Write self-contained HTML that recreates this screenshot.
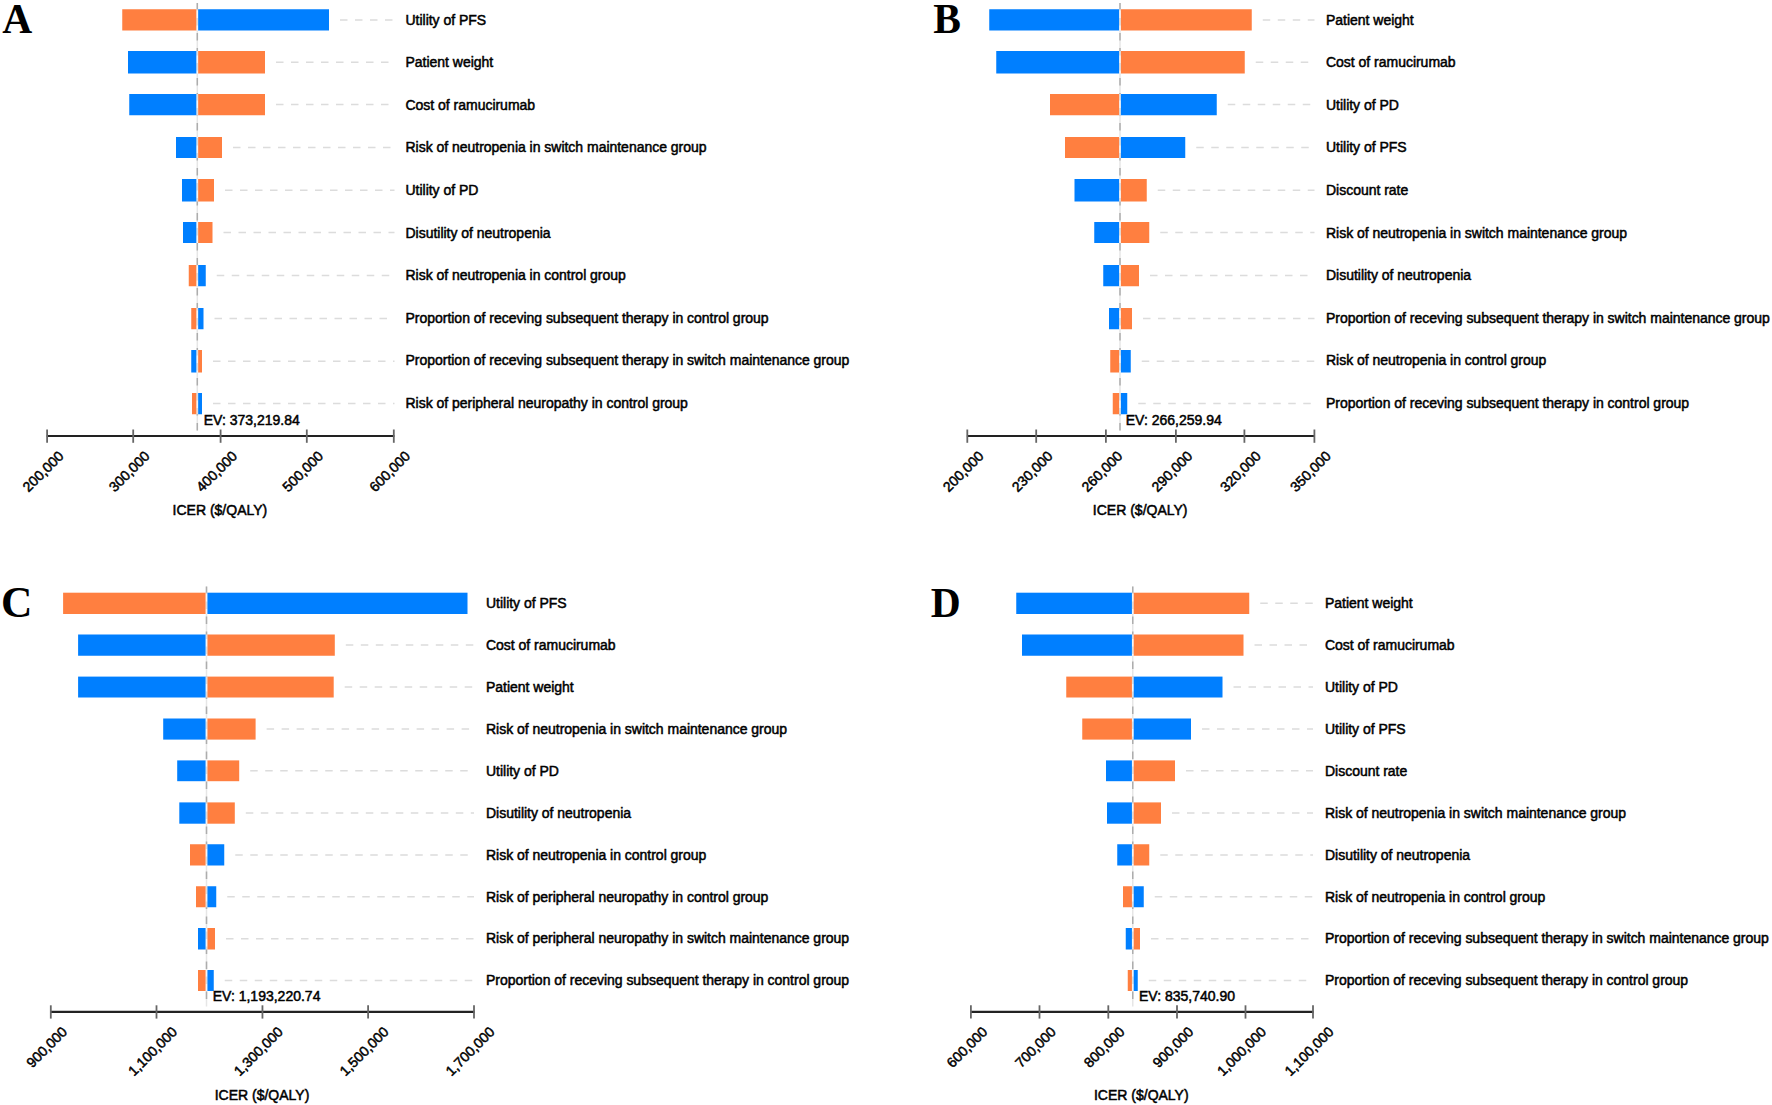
<!DOCTYPE html>
<html lang="en"><head><meta charset="utf-8"><title>Tornado diagrams</title>
<style>
html,body{margin:0;padding:0;background:#fff;}
body{width:1772px;height:1105px;overflow:hidden;}
svg{display:block;}
text{font-family:"Liberation Sans",Arial,Helvetica,sans-serif;fill:#000;stroke:#000;stroke-width:.5px;}
.lab{font-size:14px;letter-spacing:-0.02px;}
.tk{font-size:14px;text-anchor:end;}
.ev{font-size:14px;}
.ttl{font-size:14px;text-anchor:middle;}
.ltr{stroke:none;font-family:"Liberation Serif","Times New Roman",serif;font-weight:bold;}
.b{fill:#007fff;}.o{fill:#ff7f40;}
.ld{stroke:#dcdcdc;stroke-width:1.5;stroke-dasharray:7.5 7.5;fill:none;}
.cl{stroke:#adadad;stroke-width:1.5;stroke-dasharray:7.5 7.5;fill:none;}
.cu{stroke:#e6e6e6;stroke-width:1.5;fill:none;}
.cw{fill:#fff;fill-opacity:.6;}
.ax{stroke:#222;fill:none;}
.tick{stroke:#666;stroke-width:1.8;fill:none;}
</style></head><body>
<svg width="1772" height="1105" viewBox="0 0 1772 1105">
<rect x="0" y="0" width="1772" height="1105" fill="#fff"/>
<g id="panel-A">
<text class="ltr" x="2.2" y="33" font-size="41.5">A</text>
<line class="cu" x1="197.3" y1="3" x2="197.3" y2="430.5"/>
<line class="cl" x1="197.3" y1="3" x2="197.3" y2="430.5"/>
<rect class="o" x="122.25" y="9.25" width="74.25" height="21.25"/>
<rect class="b" x="198.1" y="9.25" width="130.9" height="21.25"/>
<rect class="cw" x="196.5" y="9.25" width="1.6" height="21.25"/>
<line class="ld" x1="340" y1="19.88" x2="394.5" y2="19.88"/>
<text class="lab" x="405.5" y="24.7">Utility of PFS</text>
<rect class="b" x="128" y="51" width="68.5" height="22.5"/>
<rect class="o" x="198.1" y="51" width="66.9" height="22.5"/>
<rect class="cw" x="196.5" y="51" width="1.6" height="22.5"/>
<line class="ld" x1="276" y1="62.25" x2="394.5" y2="62.25"/>
<text class="lab" x="405.5" y="67.26">Patient weight</text>
<rect class="b" x="129.25" y="94" width="67.25" height="21.25"/>
<rect class="o" x="198.1" y="94" width="66.9" height="21.25"/>
<rect class="cw" x="196.5" y="94" width="1.6" height="21.25"/>
<line class="ld" x1="276" y1="104.62" x2="394.5" y2="104.62"/>
<text class="lab" x="405.5" y="109.82">Cost of ramucirumab</text>
<rect class="b" x="176" y="137" width="20.5" height="21"/>
<rect class="o" x="198.1" y="137" width="23.9" height="21"/>
<rect class="cw" x="196.5" y="137" width="1.6" height="21"/>
<line class="ld" x1="233" y1="147.5" x2="394.5" y2="147.5"/>
<text class="lab" x="405.5" y="152.38">Risk of neutropenia in switch maintenance group</text>
<rect class="b" x="182" y="179" width="14.5" height="22.5"/>
<rect class="o" x="198.1" y="179" width="15.9" height="22.5"/>
<rect class="cw" x="196.5" y="179" width="1.6" height="22.5"/>
<line class="ld" x1="225" y1="190.25" x2="394.5" y2="190.25"/>
<text class="lab" x="405.5" y="194.94">Utility of PD</text>
<rect class="b" x="183" y="222" width="13.5" height="21"/>
<rect class="o" x="198.1" y="222" width="14.4" height="21"/>
<rect class="cw" x="196.5" y="222" width="1.6" height="21"/>
<line class="ld" x1="223.5" y1="232.5" x2="394.5" y2="232.5"/>
<text class="lab" x="405.5" y="237.5">Disutility of neutropenia</text>
<rect class="o" x="188.75" y="265" width="7.75" height="21.25"/>
<rect class="b" x="198.1" y="265" width="7.65" height="21.25"/>
<rect class="cw" x="196.5" y="265" width="1.6" height="21.25"/>
<line class="ld" x1="216.75" y1="275.62" x2="394.5" y2="275.62"/>
<text class="lab" x="405.5" y="280.06">Risk of neutropenia in control group</text>
<rect class="o" x="191.25" y="308" width="5.25" height="21.25"/>
<rect class="b" x="198.1" y="308" width="5.4" height="21.25"/>
<rect class="cw" x="196.5" y="308" width="1.6" height="21.25"/>
<line class="ld" x1="214.5" y1="318.62" x2="394.5" y2="318.62"/>
<text class="lab" x="405.5" y="322.62">Proportion of receving subsequent therapy in control group</text>
<rect class="b" x="191.25" y="350" width="5.25" height="22.5"/>
<rect class="o" x="198.1" y="350" width="3.9" height="22.5"/>
<rect class="cw" x="196.5" y="350" width="1.6" height="22.5"/>
<line class="ld" x1="213" y1="361.25" x2="394.5" y2="361.25"/>
<text class="lab" x="405.5" y="365.18">Proportion of receving subsequent therapy in switch maintenance group</text>
<rect class="o" x="192" y="393" width="4.5" height="21.25"/>
<rect class="b" x="198.1" y="393" width="3.9" height="21.25"/>
<rect class="cw" x="196.5" y="393" width="1.6" height="21.25"/>
<line class="ld" x1="213" y1="403.62" x2="394.5" y2="403.62"/>
<text class="lab" x="405.5" y="407.74">Risk of peripheral neuropathy in control group</text>
<text class="ev" x="203.75" y="425">EV: 373,219.84</text>
<line class="ax" x1="46.7" y1="436" x2="394.4" y2="436" stroke-width="1.8"/>
<line class="tick" x1="47.1" y1="429.5" x2="47.1" y2="442.8"/>
<text class="tk" transform="translate(64.4 457) rotate(-45)">200,000</text>
<line class="tick" x1="133.2" y1="429.5" x2="133.2" y2="442.8"/>
<text class="tk" transform="translate(150.5 457) rotate(-45)">300,000</text>
<line class="tick" x1="220.6" y1="429.5" x2="220.6" y2="442.8"/>
<text class="tk" transform="translate(237.9 457) rotate(-45)">400,000</text>
<line class="tick" x1="306.8" y1="429.5" x2="306.8" y2="442.8"/>
<text class="tk" transform="translate(324.1 457) rotate(-45)">500,000</text>
<line class="tick" x1="393.8" y1="429.5" x2="393.8" y2="442.8"/>
<text class="tk" transform="translate(411.1 457) rotate(-45)">600,000</text>
<text class="ttl" x="219.9" y="515">ICER ($/QALY)</text>
</g>
<g id="panel-B">
<text class="ltr" x="933.3" y="33" font-size="41.5">B</text>
<line class="cu" x1="1120" y1="3" x2="1120" y2="430.5"/>
<line class="cl" x1="1120" y1="3" x2="1120" y2="430.5"/>
<rect class="b" x="989.25" y="9.25" width="129.95" height="21.25"/>
<rect class="o" x="1120.8" y="9.25" width="130.95" height="21.25"/>
<rect class="cw" x="1119.2" y="9.25" width="1.6" height="21.25"/>
<line class="ld" x1="1262.75" y1="19.88" x2="1314.5" y2="19.88"/>
<text class="lab" x="1326" y="24.7">Patient weight</text>
<rect class="b" x="996.25" y="51" width="122.95" height="22.5"/>
<rect class="o" x="1120.8" y="51" width="123.95" height="22.5"/>
<rect class="cw" x="1119.2" y="51" width="1.6" height="22.5"/>
<line class="ld" x1="1255.75" y1="62.25" x2="1314.5" y2="62.25"/>
<text class="lab" x="1326" y="67.26">Cost of ramucirumab</text>
<rect class="o" x="1050" y="94" width="69.2" height="21.25"/>
<rect class="b" x="1120.8" y="94" width="95.95" height="21.25"/>
<rect class="cw" x="1119.2" y="94" width="1.6" height="21.25"/>
<line class="ld" x1="1227.75" y1="104.62" x2="1314.5" y2="104.62"/>
<text class="lab" x="1326" y="109.82">Utility of PD</text>
<rect class="o" x="1065" y="137" width="54.2" height="21"/>
<rect class="b" x="1120.8" y="137" width="64.45" height="21"/>
<rect class="cw" x="1119.2" y="137" width="1.6" height="21"/>
<line class="ld" x1="1196.25" y1="147.5" x2="1314.5" y2="147.5"/>
<text class="lab" x="1326" y="152.38">Utility of PFS</text>
<rect class="b" x="1074.5" y="179" width="44.7" height="22.5"/>
<rect class="o" x="1120.8" y="179" width="25.95" height="22.5"/>
<rect class="cw" x="1119.2" y="179" width="1.6" height="22.5"/>
<line class="ld" x1="1157.75" y1="190.25" x2="1314.5" y2="190.25"/>
<text class="lab" x="1326" y="194.94">Discount rate</text>
<rect class="b" x="1094.25" y="222" width="24.95" height="21"/>
<rect class="o" x="1120.8" y="222" width="28.45" height="21"/>
<rect class="cw" x="1119.2" y="222" width="1.6" height="21"/>
<line class="ld" x1="1160.25" y1="232.5" x2="1314.5" y2="232.5"/>
<text class="lab" x="1326" y="237.5">Risk of neutropenia in switch maintenance group</text>
<rect class="b" x="1103.25" y="265" width="15.95" height="21.25"/>
<rect class="o" x="1120.8" y="265" width="18.2" height="21.25"/>
<rect class="cw" x="1119.2" y="265" width="1.6" height="21.25"/>
<line class="ld" x1="1150" y1="275.62" x2="1314.5" y2="275.62"/>
<text class="lab" x="1326" y="280.06">Disutility of neutropenia</text>
<rect class="b" x="1109" y="308" width="10.2" height="21.25"/>
<rect class="o" x="1120.8" y="308" width="11.2" height="21.25"/>
<rect class="cw" x="1119.2" y="308" width="1.6" height="21.25"/>
<line class="ld" x1="1143" y1="318.62" x2="1314.5" y2="318.62"/>
<text class="lab" x="1326" y="322.62">Proportion of receving subsequent therapy in switch maintenance group</text>
<rect class="o" x="1110.25" y="350" width="8.95" height="22.5"/>
<rect class="b" x="1120.8" y="350" width="9.95" height="22.5"/>
<rect class="cw" x="1119.2" y="350" width="1.6" height="22.5"/>
<line class="ld" x1="1141.75" y1="361.25" x2="1314.5" y2="361.25"/>
<text class="lab" x="1326" y="365.18">Risk of neutropenia in control group</text>
<rect class="o" x="1112.75" y="393" width="6.45" height="21.25"/>
<rect class="b" x="1120.8" y="393" width="6.45" height="21.25"/>
<rect class="cw" x="1119.2" y="393" width="1.6" height="21.25"/>
<line class="ld" x1="1138.25" y1="403.62" x2="1314.5" y2="403.62"/>
<text class="lab" x="1326" y="407.74">Proportion of receving subsequent therapy in control group</text>
<text class="ev" x="1125.75" y="425">EV: 266,259.94</text>
<line class="ax" x1="966.9" y1="436" x2="1315" y2="436" stroke-width="1.8"/>
<line class="tick" x1="967.3" y1="429.5" x2="967.3" y2="442.8"/>
<text class="tk" transform="translate(984.6 457) rotate(-45)">200,000</text>
<line class="tick" x1="1036.2" y1="429.5" x2="1036.2" y2="442.8"/>
<text class="tk" transform="translate(1053.5 457) rotate(-45)">230,000</text>
<line class="tick" x1="1105.9" y1="429.5" x2="1105.9" y2="442.8"/>
<text class="tk" transform="translate(1123.2 457) rotate(-45)">260,000</text>
<line class="tick" x1="1175.9" y1="429.5" x2="1175.9" y2="442.8"/>
<text class="tk" transform="translate(1193.2 457) rotate(-45)">290,000</text>
<line class="tick" x1="1244.4" y1="429.5" x2="1244.4" y2="442.8"/>
<text class="tk" transform="translate(1261.7 457) rotate(-45)">320,000</text>
<line class="tick" x1="1314.4" y1="429.5" x2="1314.4" y2="442.8"/>
<text class="tk" transform="translate(1331.7 457) rotate(-45)">350,000</text>
<text class="ttl" x="1140.2" y="515">ICER ($/QALY)</text>
</g>
<g id="panel-C">
<text class="ltr" x="1.1" y="616.7" font-size="43.5">C</text>
<line class="cu" x1="206.5" y1="586.6" x2="206.5" y2="1006.5"/>
<line class="cl" x1="206.5" y1="586.6" x2="206.5" y2="1006.5"/>
<rect class="o" x="63.1" y="592.7" width="142.6" height="21.3"/>
<rect class="b" x="207.3" y="592.7" width="260.2" height="21.3"/>
<rect class="cw" x="205.7" y="592.7" width="1.6" height="21.3"/>
<text class="lab" x="486" y="608.2">Utility of PFS</text>
<rect class="b" x="78.1" y="634.5" width="127.6" height="21.25"/>
<rect class="o" x="207.3" y="634.5" width="127.5" height="21.25"/>
<rect class="cw" x="205.7" y="634.5" width="1.6" height="21.25"/>
<line class="ld" x1="345.8" y1="645.12" x2="474" y2="645.12"/>
<text class="lab" x="486" y="650.1">Cost of ramucirumab</text>
<rect class="b" x="78.1" y="676.6" width="127.6" height="20.9"/>
<rect class="o" x="207.3" y="676.6" width="126.4" height="20.9"/>
<rect class="cw" x="205.7" y="676.6" width="1.6" height="20.9"/>
<line class="ld" x1="344.7" y1="687.05" x2="474" y2="687.05"/>
<text class="lab" x="486" y="692">Patient weight</text>
<rect class="b" x="163.2" y="718.5" width="42.5" height="21.1"/>
<rect class="o" x="207.3" y="718.5" width="48.3" height="21.1"/>
<rect class="cw" x="205.7" y="718.5" width="1.6" height="21.1"/>
<line class="ld" x1="266.6" y1="729.05" x2="474" y2="729.05"/>
<text class="lab" x="486" y="733.9">Risk of neutropenia in switch maintenance group</text>
<rect class="b" x="177.2" y="760.4" width="28.5" height="20.8"/>
<rect class="o" x="207.3" y="760.4" width="31.9" height="20.8"/>
<rect class="cw" x="205.7" y="760.4" width="1.6" height="20.8"/>
<line class="ld" x1="250.2" y1="770.8" x2="474" y2="770.8"/>
<text class="lab" x="486" y="775.8">Utility of PD</text>
<rect class="b" x="179.3" y="802.4" width="26.4" height="21.3"/>
<rect class="o" x="207.3" y="802.4" width="27.5" height="21.3"/>
<rect class="cw" x="205.7" y="802.4" width="1.6" height="21.3"/>
<line class="ld" x1="245.8" y1="813.05" x2="474" y2="813.05"/>
<text class="lab" x="486" y="817.7">Disutility of neutropenia</text>
<rect class="o" x="190" y="844.25" width="15.7" height="21.25"/>
<rect class="b" x="207.3" y="844.25" width="16.95" height="21.25"/>
<rect class="cw" x="205.7" y="844.25" width="1.6" height="21.25"/>
<line class="ld" x1="235.25" y1="854.88" x2="474" y2="854.88"/>
<text class="lab" x="486" y="859.6">Risk of neutropenia in control group</text>
<rect class="o" x="196" y="886.25" width="9.7" height="21"/>
<rect class="b" x="207.3" y="886.25" width="8.95" height="21"/>
<rect class="cw" x="205.7" y="886.25" width="1.6" height="21"/>
<line class="ld" x1="227.25" y1="896.75" x2="474" y2="896.75"/>
<text class="lab" x="486" y="901.5">Risk of peripheral neuropathy in control group</text>
<rect class="b" x="198" y="928" width="7.7" height="21.5"/>
<rect class="o" x="207.3" y="928" width="7.7" height="21.5"/>
<rect class="cw" x="205.7" y="928" width="1.6" height="21.5"/>
<line class="ld" x1="226" y1="938.75" x2="474" y2="938.75"/>
<text class="lab" x="486" y="943.4">Risk of peripheral neuropathy in switch maintenance group</text>
<rect class="o" x="198" y="970" width="7.7" height="21"/>
<rect class="b" x="207.3" y="970" width="6.45" height="21"/>
<rect class="cw" x="205.7" y="970" width="1.6" height="21"/>
<line class="ld" x1="224.75" y1="980.5" x2="474" y2="980.5"/>
<text class="lab" x="486" y="985.3">Proportion of receving subsequent therapy in control group</text>
<text class="ev" x="212.75" y="1000.75">EV: 1,193,220.74</text>
<line class="ax" x1="50.4" y1="1011.8" x2="474.6" y2="1011.8" stroke-width="2.3"/>
<line class="tick" x1="50.8" y1="1005.3" x2="50.8" y2="1018.6"/>
<text class="tk" transform="translate(68.1 1032.8) rotate(-45)">900,000</text>
<line class="tick" x1="156.5" y1="1005.3" x2="156.5" y2="1018.6"/>
<text class="tk" transform="translate(177.94 1032.8) rotate(-45)">1,100,000</text>
<line class="tick" x1="262.45" y1="1005.3" x2="262.45" y2="1018.6"/>
<text class="tk" transform="translate(283.89 1032.8) rotate(-45)">1,300,000</text>
<line class="tick" x1="368.1" y1="1005.3" x2="368.1" y2="1018.6"/>
<text class="tk" transform="translate(389.54 1032.8) rotate(-45)">1,500,000</text>
<line class="tick" x1="474" y1="1005.3" x2="474" y2="1018.6"/>
<text class="tk" transform="translate(495.44 1032.8) rotate(-45)">1,700,000</text>
<text class="ttl" x="262" y="1099.5">ICER ($/QALY)</text>
</g>
<g id="panel-D">
<text class="ltr" x="930.65" y="616.5" font-size="41.5">D</text>
<line class="cu" x1="1132.75" y1="586.5" x2="1132.75" y2="1006.5"/>
<line class="cl" x1="1132.75" y1="586.5" x2="1132.75" y2="1006.5"/>
<rect class="b" x="1016.25" y="592.7" width="115.7" height="21.3"/>
<rect class="o" x="1133.55" y="592.7" width="115.7" height="21.3"/>
<rect class="cw" x="1131.95" y="592.7" width="1.6" height="21.3"/>
<line class="ld" x1="1260.25" y1="603.35" x2="1313" y2="603.35"/>
<text class="lab" x="1325" y="608.2">Patient weight</text>
<rect class="b" x="1022" y="634.5" width="109.95" height="21.25"/>
<rect class="o" x="1133.55" y="634.5" width="109.95" height="21.25"/>
<rect class="cw" x="1131.95" y="634.5" width="1.6" height="21.25"/>
<line class="ld" x1="1254.5" y1="645.12" x2="1313" y2="645.12"/>
<text class="lab" x="1325" y="650.1">Cost of ramucirumab</text>
<rect class="o" x="1066.25" y="676.6" width="65.7" height="20.9"/>
<rect class="b" x="1133.55" y="676.6" width="88.95" height="20.9"/>
<rect class="cw" x="1131.95" y="676.6" width="1.6" height="20.9"/>
<line class="ld" x1="1233.5" y1="687.05" x2="1313" y2="687.05"/>
<text class="lab" x="1325" y="692">Utility of PD</text>
<rect class="o" x="1082.25" y="718.5" width="49.7" height="21.1"/>
<rect class="b" x="1133.55" y="718.5" width="57.45" height="21.1"/>
<rect class="cw" x="1131.95" y="718.5" width="1.6" height="21.1"/>
<line class="ld" x1="1202" y1="729.05" x2="1313" y2="729.05"/>
<text class="lab" x="1325" y="733.9">Utility of PFS</text>
<rect class="b" x="1106" y="760.4" width="25.95" height="20.8"/>
<rect class="o" x="1133.55" y="760.4" width="41.45" height="20.8"/>
<rect class="cw" x="1131.95" y="760.4" width="1.6" height="20.8"/>
<line class="ld" x1="1186" y1="770.8" x2="1313" y2="770.8"/>
<text class="lab" x="1325" y="775.8">Discount rate</text>
<rect class="b" x="1107" y="802.4" width="24.95" height="21.3"/>
<rect class="o" x="1133.55" y="802.4" width="27.45" height="21.3"/>
<rect class="cw" x="1131.95" y="802.4" width="1.6" height="21.3"/>
<line class="ld" x1="1172" y1="813.05" x2="1313" y2="813.05"/>
<text class="lab" x="1325" y="817.7">Risk of neutropenia in switch maintenance group</text>
<rect class="b" x="1117.25" y="844.25" width="14.7" height="21.25"/>
<rect class="o" x="1133.55" y="844.25" width="15.7" height="21.25"/>
<rect class="cw" x="1131.95" y="844.25" width="1.6" height="21.25"/>
<line class="ld" x1="1160.25" y1="854.88" x2="1313" y2="854.88"/>
<text class="lab" x="1325" y="859.6">Disutility of neutropenia</text>
<rect class="o" x="1123" y="886.25" width="8.95" height="21"/>
<rect class="b" x="1133.55" y="886.25" width="10.2" height="21"/>
<rect class="cw" x="1131.95" y="886.25" width="1.6" height="21"/>
<line class="ld" x1="1154.75" y1="896.75" x2="1313" y2="896.75"/>
<text class="lab" x="1325" y="901.5">Risk of neutropenia in control group</text>
<rect class="b" x="1125.75" y="928" width="6.2" height="21.5"/>
<rect class="o" x="1133.55" y="928" width="6.45" height="21.5"/>
<rect class="cw" x="1131.95" y="928" width="1.6" height="21.5"/>
<line class="ld" x1="1151" y1="938.75" x2="1313" y2="938.75"/>
<text class="lab" x="1325" y="943.4">Proportion of receving subsequent therapy in switch maintenance group</text>
<rect class="o" x="1127.75" y="970" width="4.2" height="21"/>
<rect class="b" x="1133.55" y="970" width="4.2" height="21"/>
<rect class="cw" x="1131.95" y="970" width="1.6" height="21"/>
<line class="ld" x1="1148.75" y1="980.5" x2="1313" y2="980.5"/>
<text class="lab" x="1325" y="985.3">Proportion of receving subsequent therapy in control group</text>
<text class="ev" x="1139" y="1000.75">EV: 835,740.90</text>
<line class="ax" x1="970.5" y1="1011.8" x2="1313.6" y2="1011.8" stroke-width="2.3"/>
<line class="tick" x1="970.9" y1="1005.3" x2="970.9" y2="1018.6"/>
<text class="tk" transform="translate(988.2 1032.8) rotate(-45)">600,000</text>
<line class="tick" x1="1039.5" y1="1005.3" x2="1039.5" y2="1018.6"/>
<text class="tk" transform="translate(1056.8 1032.8) rotate(-45)">700,000</text>
<line class="tick" x1="1108.3" y1="1005.3" x2="1108.3" y2="1018.6"/>
<text class="tk" transform="translate(1125.6 1032.8) rotate(-45)">800,000</text>
<line class="tick" x1="1177" y1="1005.3" x2="1177" y2="1018.6"/>
<text class="tk" transform="translate(1194.3 1032.8) rotate(-45)">900,000</text>
<line class="tick" x1="1245.5" y1="1005.3" x2="1245.5" y2="1018.6"/>
<text class="tk" transform="translate(1266.94 1032.8) rotate(-45)">1,000,000</text>
<line class="tick" x1="1313" y1="1005.3" x2="1313" y2="1018.6"/>
<text class="tk" transform="translate(1334.44 1032.8) rotate(-45)">1,100,000</text>
<text class="ttl" x="1141.3" y="1099.5">ICER ($/QALY)</text>
</g>
</svg>
</body></html>
